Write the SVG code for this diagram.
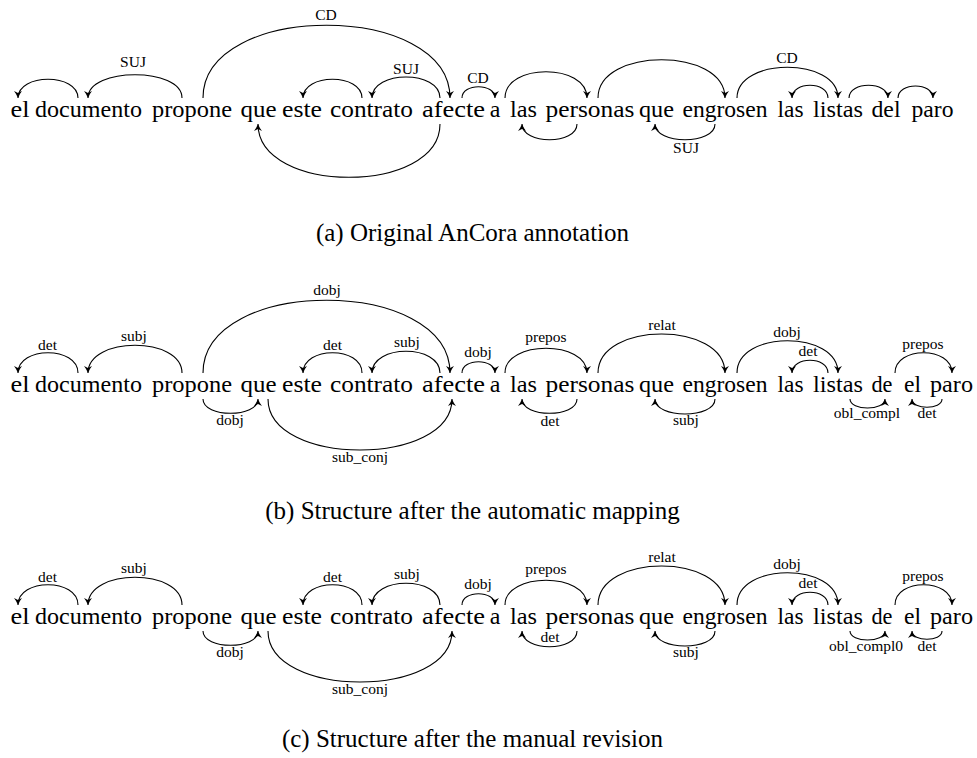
<svg xmlns="http://www.w3.org/2000/svg" width="977" height="758" viewBox="0 0 977 758">
  <style>
    text { font-family: "Liberation Serif", "Times New Roman", serif; fill: #000; text-anchor: middle; }
    .w { font-size: 24px; }
    .l { font-size: 15.5px; }
    .cap { font-size: 25px; }
    .arc { fill: none; stroke: #000; stroke-width: 1.1; marker-end: url(#ah); }
  </style>
  <defs>
    <marker id="ah" markerUnits="userSpaceOnUse" markerWidth="10" markerHeight="10" viewBox="-8 -5 10 10" refX="0" refY="0" orient="auto">
      <path d="M0,0 Q-4,-1.6 -7,-4 L-5,0 L-7,4 Q-4,1.6 0,0 Z" fill="#000"/>
    </marker>
  </defs>
  <rect width="977" height="758" fill="#fff"/>

  <!-- (a) original annotation -->
  <g id="row-a">
    <g id="a-el"><text class="w" x="20" y="117" textLength="19" lengthAdjust="spacingAndGlyphs">el</text></g>
    <g id="a-documento"><text class="w" x="88.5" y="117" textLength="107" lengthAdjust="spacingAndGlyphs">documento</text></g>
    <g id="a-propone"><text class="w" x="192" y="117" textLength="80" lengthAdjust="spacingAndGlyphs">propone</text></g>
    <g id="a-que1"><text class="w" x="258.5" y="117" textLength="36" lengthAdjust="spacingAndGlyphs">que</text></g>
    <g id="a-este"><text class="w" x="302" y="117" textLength="40" lengthAdjust="spacingAndGlyphs">este</text></g>
    <g id="a-contrato"><text class="w" x="371.5" y="117" textLength="83" lengthAdjust="spacingAndGlyphs">contrato</text></g>
    <g id="a-afecte"><text class="w" x="453.5" y="117" textLength="63" lengthAdjust="spacingAndGlyphs">afecte</text></g>
    <g id="a-a"><text class="w" x="495" y="117">a</text></g>
    <g id="a-las1"><text class="w" x="523.5" y="117" textLength="27" lengthAdjust="spacingAndGlyphs">las</text></g>
    <g id="a-personas"><text class="w" x="590" y="117" textLength="89" lengthAdjust="spacingAndGlyphs">personas</text></g>
    <g id="a-que2"><text class="w" x="656.5" y="117" textLength="35" lengthAdjust="spacingAndGlyphs">que</text></g>
    <g id="a-engrosen"><text class="w" x="725" y="117" textLength="85" lengthAdjust="spacingAndGlyphs">engrosen</text></g>
    <g id="a-las2"><text class="w" x="790.5" y="117" textLength="26" lengthAdjust="spacingAndGlyphs">las</text></g>
    <g id="a-listas"><text class="w" x="838" y="117" textLength="50" lengthAdjust="spacingAndGlyphs">listas</text></g>
    <g id="a-del"><text class="w" x="886" y="117" textLength="29" lengthAdjust="spacingAndGlyphs">del</text></g>
    <g id="a-paro"><text class="w" x="932.5" y="117" textLength="42" lengthAdjust="spacingAndGlyphs">paro</text></g>
  </g>
  <g id="connectors-a">
    <path class="arc" d="M78 98 C78 73 18 73 18 98"/>
    <path class="arc" d="M182 98 C182 67 88 67 88 98"/>
    <text class="l" x="133" y="67">SUJ</text>
    <path class="arc" d="M203 98 C203 1 450 1 450 98"/>
    <text class="l" x="326" y="20">CD</text>
    <path class="arc" d="M362 98 C362 73 303 73 303 98"/>
    <path class="arc" d="M440 98 C440 70 372 70 372 98"/>
    <text class="l" x="406" y="74">SUJ</text>
    <path class="arc" d="M462 98 C462 83 495 83 495 98"/>
    <text class="l" x="478" y="83">CD</text>
    <path class="arc" d="M505 98 C505 63 587 63 587 98"/>
    <path class="arc" d="M577 124 C577 145 522 145 522 124"/>
    <path class="arc" d="M598 98 C598 47 725 47 725 98"/>
    <path class="arc" d="M715 124 C715 145 655 145 655 124"/>
    <text class="l" x="686" y="153">SUJ</text>
    <path class="arc" d="M737 98 C737 57 838 57 838 98"/>
    <text class="l" x="787" y="63">CD</text>
    <path class="arc" d="M828 98 C828 81 792 81 792 98"/>
    <path class="arc" d="M849 98 C849 81 888 81 888 98"/>
    <path class="arc" d="M898 98 C898 82 933 82 933 98"/>
    <path class="arc" d="M440 124 C440 195 258 195 258 124"/>
  </g>
  <g id="caption-a"><text class="cap" x="472.5" y="241">(a) Original AnCora annotation</text></g>

  <!-- (b) automatic mapping -->
  <g id="row-b">
    <g id="b-el"><text class="w" x="20" y="392" textLength="19" lengthAdjust="spacingAndGlyphs">el</text></g>
    <g id="b-documento"><text class="w" x="88.5" y="392" textLength="107" lengthAdjust="spacingAndGlyphs">documento</text></g>
    <g id="b-propone"><text class="w" x="192" y="392" textLength="80" lengthAdjust="spacingAndGlyphs">propone</text></g>
    <g id="b-que1"><text class="w" x="258.5" y="392" textLength="36" lengthAdjust="spacingAndGlyphs">que</text></g>
    <g id="b-este"><text class="w" x="302" y="392" textLength="40" lengthAdjust="spacingAndGlyphs">este</text></g>
    <g id="b-contrato"><text class="w" x="371.5" y="392" textLength="83" lengthAdjust="spacingAndGlyphs">contrato</text></g>
    <g id="b-afecte"><text class="w" x="453.5" y="392" textLength="63" lengthAdjust="spacingAndGlyphs">afecte</text></g>
    <g id="b-a"><text class="w" x="495" y="392">a</text></g>
    <g id="b-las1"><text class="w" x="523.5" y="392" textLength="27" lengthAdjust="spacingAndGlyphs">las</text></g>
    <g id="b-personas"><text class="w" x="590" y="392" textLength="89" lengthAdjust="spacingAndGlyphs">personas</text></g>
    <g id="b-que2"><text class="w" x="656.5" y="392" textLength="35" lengthAdjust="spacingAndGlyphs">que</text></g>
    <g id="b-engrosen"><text class="w" x="725" y="392" textLength="85" lengthAdjust="spacingAndGlyphs">engrosen</text></g>
    <g id="b-las2"><text class="w" x="790.5" y="392" textLength="26" lengthAdjust="spacingAndGlyphs">las</text></g>
    <g id="b-listas"><text class="w" x="838" y="392" textLength="50" lengthAdjust="spacingAndGlyphs">listas</text></g>
    <g id="b-de"><text class="w" x="882" y="392" textLength="21" lengthAdjust="spacingAndGlyphs">de</text></g>
    <g id="b-el2"><text class="w" x="912.5" y="392" textLength="17" lengthAdjust="spacingAndGlyphs">el</text></g>
    <g id="b-paro"><text class="w" x="951.5" y="392" textLength="43" lengthAdjust="spacingAndGlyphs">paro</text></g>
  </g>
  <g id="connectors-b">
    <path class="arc" d="M78 373 C78 346 18 346 18 373"/>
    <text class="l" x="47.5" y="350">det</text>
    <path class="arc" d="M182 373 C182 336 88 336 88 373"/>
    <text class="l" x="134" y="341">subj</text>
    <path class="arc" d="M203 373 C203 276 450 276 450 373"/>
    <text class="l" x="327" y="295">dobj</text>
    <path class="arc" d="M203 399 C203 418 258 418 258 399"/>
    <text class="l" x="230" y="425">dobj</text>
    <path class="arc" d="M268 399 C268 467 452 467 452 399"/>
    <text class="l" x="360" y="462">sub_conj</text>
    <path class="arc" d="M362 373 C362 346 303 346 303 373"/>
    <text class="l" x="332.5" y="350">det</text>
    <path class="arc" d="M440 373 C440 344 372 344 372 373"/>
    <text class="l" x="407" y="347">subj</text>
    <path class="arc" d="M462 373 C462 358 495 358 495 373"/>
    <text class="l" x="478" y="357">dobj</text>
    <path class="arc" d="M505 373 C505 340 587 340 587 373"/>
    <text class="l" x="546" y="342">prepos</text>
    <path class="arc" d="M577 399 C577 418 522 418 522 399"/>
    <text class="l" x="550" y="426">det</text>
    <path class="arc" d="M598 373 C598 321 725 321 725 373"/>
    <text class="l" x="662" y="330">relat</text>
    <path class="arc" d="M715 399 C715 419 655 419 655 399"/>
    <text class="l" x="686" y="425">subj</text>
    <path class="arc" d="M737 373 C737 330 838 330 838 373"/>
    <text class="l" x="787" y="337">dobj</text>
    <path class="arc" d="M828 373 C828 356 792 356 792 373"/>
    <text class="l" x="808" y="356">det</text>
    <path class="arc" d="M850 399 C850 411 885 411 885 399"/>
    <text class="l" x="867" y="418">obl_compl</text>
    <path class="arc" d="M895 373 C895 346 952 346 952 373"/>
    <text class="l" x="923" y="349">prepos</text>
    <path class="arc" d="M942 399 C942 410 912 410 912 399"/>
    <text class="l" x="927" y="418">det</text>
  </g>
  <g id="caption-b"><text class="cap" x="472.5" y="519">(b) Structure after the automatic mapping</text></g>

  <!-- (c) manual revision -->
  <g id="row-c">
    <g id="c-el"><text class="w" x="20" y="624" textLength="19" lengthAdjust="spacingAndGlyphs">el</text></g>
    <g id="c-documento"><text class="w" x="88.5" y="624" textLength="107" lengthAdjust="spacingAndGlyphs">documento</text></g>
    <g id="c-propone"><text class="w" x="192" y="624" textLength="80" lengthAdjust="spacingAndGlyphs">propone</text></g>
    <g id="c-que1"><text class="w" x="258.5" y="624" textLength="36" lengthAdjust="spacingAndGlyphs">que</text></g>
    <g id="c-este"><text class="w" x="302" y="624" textLength="40" lengthAdjust="spacingAndGlyphs">este</text></g>
    <g id="c-contrato"><text class="w" x="371.5" y="624" textLength="83" lengthAdjust="spacingAndGlyphs">contrato</text></g>
    <g id="c-afecte"><text class="w" x="453.5" y="624" textLength="63" lengthAdjust="spacingAndGlyphs">afecte</text></g>
    <g id="c-a"><text class="w" x="495" y="624">a</text></g>
    <g id="c-las1"><text class="w" x="523.5" y="624" textLength="27" lengthAdjust="spacingAndGlyphs">las</text></g>
    <g id="c-personas"><text class="w" x="590" y="624" textLength="89" lengthAdjust="spacingAndGlyphs">personas</text></g>
    <g id="c-que2"><text class="w" x="656.5" y="624" textLength="35" lengthAdjust="spacingAndGlyphs">que</text></g>
    <g id="c-engrosen"><text class="w" x="725" y="624" textLength="85" lengthAdjust="spacingAndGlyphs">engrosen</text></g>
    <g id="c-las2"><text class="w" x="790.5" y="624" textLength="26" lengthAdjust="spacingAndGlyphs">las</text></g>
    <g id="c-listas"><text class="w" x="838" y="624" textLength="50" lengthAdjust="spacingAndGlyphs">listas</text></g>
    <g id="c-de"><text class="w" x="882" y="624" textLength="21" lengthAdjust="spacingAndGlyphs">de</text></g>
    <g id="c-el2"><text class="w" x="912.5" y="624" textLength="17" lengthAdjust="spacingAndGlyphs">el</text></g>
    <g id="c-paro"><text class="w" x="951.5" y="624" textLength="43" lengthAdjust="spacingAndGlyphs">paro</text></g>
  </g>
  <g id="connectors-c">
    <path class="arc" d="M78 605 C78 578 18 578 18 605"/>
    <text class="l" x="47.5" y="582">det</text>
    <path class="arc" d="M182 605 C182 568 88 568 88 605"/>
    <text class="l" x="134" y="573">subj</text>
    <path class="arc" d="M203 631 C203 650 258 650 258 631"/>
    <text class="l" x="230" y="657">dobj</text>
    <path class="arc" d="M268 631 C268 699 452 699 452 631"/>
    <text class="l" x="360" y="694">sub_conj</text>
    <path class="arc" d="M362 605 C362 578 303 578 303 605"/>
    <text class="l" x="332.5" y="582">det</text>
    <path class="arc" d="M440 605 C440 576 372 576 372 605"/>
    <text class="l" x="407" y="579">subj</text>
    <path class="arc" d="M462 605 C462 590 495 590 495 605"/>
    <text class="l" x="478" y="589">dobj</text>
    <path class="arc" d="M505 605 C505 572 587 572 587 605"/>
    <text class="l" x="546" y="574">prepos</text>
    <path class="arc" d="M577 631 C577 652 522 652 522 631"/>
    <text class="l" x="550" y="642">det</text>
    <path class="arc" d="M598 605 C598 553 725 553 725 605"/>
    <text class="l" x="662" y="562">relat</text>
    <path class="arc" d="M715 631 C715 651 655 651 655 631"/>
    <text class="l" x="686" y="657">subj</text>
    <path class="arc" d="M737 605 C737 562 838 562 838 605"/>
    <text class="l" x="787" y="569">dobj</text>
    <path class="arc" d="M828 605 C828 588 792 588 792 605"/>
    <text class="l" x="808" y="588">det</text>
    <path class="arc" d="M850 631 C850 643 885 643 885 631"/>
    <text class="l" x="866" y="651">obl_compl0</text>
    <path class="arc" d="M895 605 C895 578 952 578 952 605"/>
    <text class="l" x="923" y="581">prepos</text>
    <path class="arc" d="M942 631 C942 642 912 642 912 631"/>
    <text class="l" x="927" y="651">det</text>
  </g>
  <g id="caption-c"><text class="cap" x="472.5" y="747">(c) Structure after the manual revision</text></g>
</svg>
